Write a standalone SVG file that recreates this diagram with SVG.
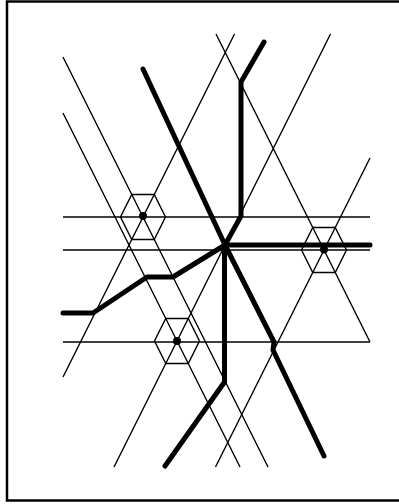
<svg xmlns="http://www.w3.org/2000/svg" width="399" height="504" viewBox="0 0 399 504">
<style>
.thin{fill:none;stroke:#000;stroke-width:1.4}
.thick{fill:none;stroke:#000;stroke-width:5;stroke-linecap:round;stroke-linejoin:round}
.hex{fill:none;stroke:#000;stroke-width:1.4}
.dot{fill:#000}
</style>
<rect x="0" y="0" width="399" height="504" fill="#fff"/>
<rect x="7" y="1.5" width="420" height="499" fill="none" stroke="#000" stroke-width="2.5"/>
<g id="lattice" class="thin">
<line x1="63" y1="217" x2="370" y2="217"/>
<line x1="63" y1="250" x2="370" y2="250"/>
<line x1="63" y1="342" x2="370" y2="342"/>
<line x1="63" y1="57" x2="268" y2="467"/>
<line x1="234.5" y1="34" x2="63" y2="377"/>
<line x1="216" y1="34" x2="370" y2="342"/>
<line x1="370" y1="158" x2="215.5" y2="467"/>
<line x1="63" y1="113" x2="240" y2="467"/>
<line x1="330.5" y1="34" x2="114" y2="467"/>
</g>
<g id="h1">
<polygon class="hex" points="131.75,194.5 154.25,194.5 165.5,217 154.25,239.5 131.75,239.5 120.5,217"/>
<circle class="dot" cx="143" cy="216" r="4"/>
</g>
<g id="h2">
<polygon class="hex" points="312.75,227.5 335.25,227.5 346.5,250 335.25,272.5 312.75,272.5 301.5,250"/>
<circle class="dot" cx="324" cy="249.5" r="4"/>
</g>
<g id="h3">
<polygon class="hex" points="165.75,318.5 188.25,318.5 199.5,341 188.25,363.5 165.75,363.5 154.5,341"/>
<circle class="dot" cx="177" cy="341" r="4"/>
</g>
<g id="connectors" class="thick">
<path d="M143,69 L225,245 L274,342 L273,350 L324,456"/>
<path d="M264,42 L241,82 L241,216 L225,245"/>
<path d="M225,245 L370,245"/>
<path d="M225,245 L224.5,247 L224.5,382 L165,466"/>
<path d="M63,313 L93,313 L147,277 L173,277 L225,245"/>
</g>
</svg>
